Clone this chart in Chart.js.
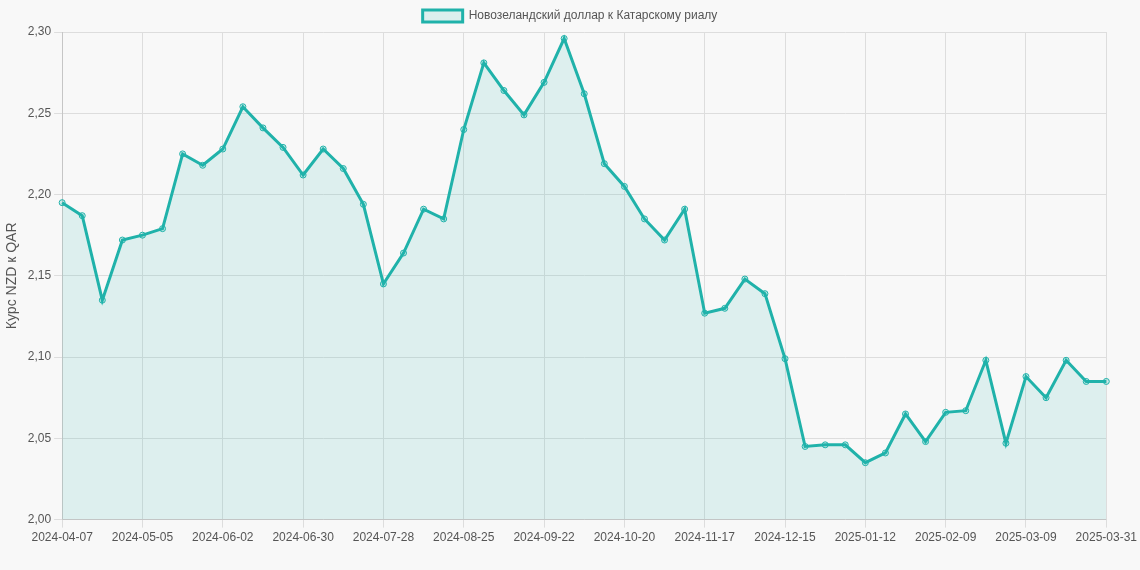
<!DOCTYPE html>
<html><head><meta charset="utf-8">
<script src="https://cdn.jsdelivr.net/npm/chart.js@4"></script>
<style>html,body{margin:0;padding:0;background:#f8f8f8;}#w{width:1140px;height:570px;}</style>
</head><body><div id="w"><canvas id="c"></canvas></div>
<script>
const startDate = "2024-04-07";
const lastLabel = "2025-03-31";
const values = [2.195,2.187,2.135,2.172,2.175,2.179,2.225,2.218,2.228,2.254,2.241,2.229,2.212,2.228,2.216,2.194,2.145,2.164,2.191,2.185,2.240,2.281,2.264,2.249,2.269,2.296,2.262,2.219,2.205,2.185,2.172,2.191,2.127,2.130,2.148,2.139,2.099,2.045,2.046,2.046,2.035,2.041,2.065,2.048,2.066,2.067,2.098,2.047,2.088,2.075,2.098,2.085,2.085];
const labels = [];
for (let i = 0; i < values.length; i++) {
  if (i === values.length - 1) { labels.push(lastLabel); break; }
  const d = new Date(startDate + "T12:00:00Z"); d.setUTCDate(d.getUTCDate() + 7 * i);
  labels.push(d.toISOString().slice(0, 10));
}
Chart.defaults.font.family = "'Liberation Sans', Arial, sans-serif";
new Chart(document.getElementById('c'), {
  type: 'line',
  data: { labels, datasets: [{
    label: 'Новозеландский доллар к Катарскому риалу',
    data: values, borderColor: '#20b2aa', backgroundColor: 'rgba(32,178,170,0.12)',
    borderWidth: 3, fill: true, tension: 0, pointRadius: 3, pointBorderWidth: 1,
    pointBackgroundColor: 'rgba(32,178,170,0.2)'
  }]},
  options: {
    responsive: true, maintainAspectRatio: false, animation: false,
    layout: { padding: { bottom: 22 } },
    plugins: { legend: { labels: { color: '#555', font: { size: 12 } } } },
    scales: {
      x: { ticks: { color: '#555', maxRotation: 0, autoSkip: true, maxTicksLimit: 14 }, grid: { color: '#ddd' } },
      y: { min: 2.0, max: 2.3, ticks: { stepSize: 0.05, color: '#555', callback: v => v.toFixed(2).replace('.', ',') },
           grid: { color: '#ddd' }, title: { display: true, text: 'Курс NZD к QAR', color: '#555', font: { size: 14 } } }
    }
  }
});
</script></body></html>
